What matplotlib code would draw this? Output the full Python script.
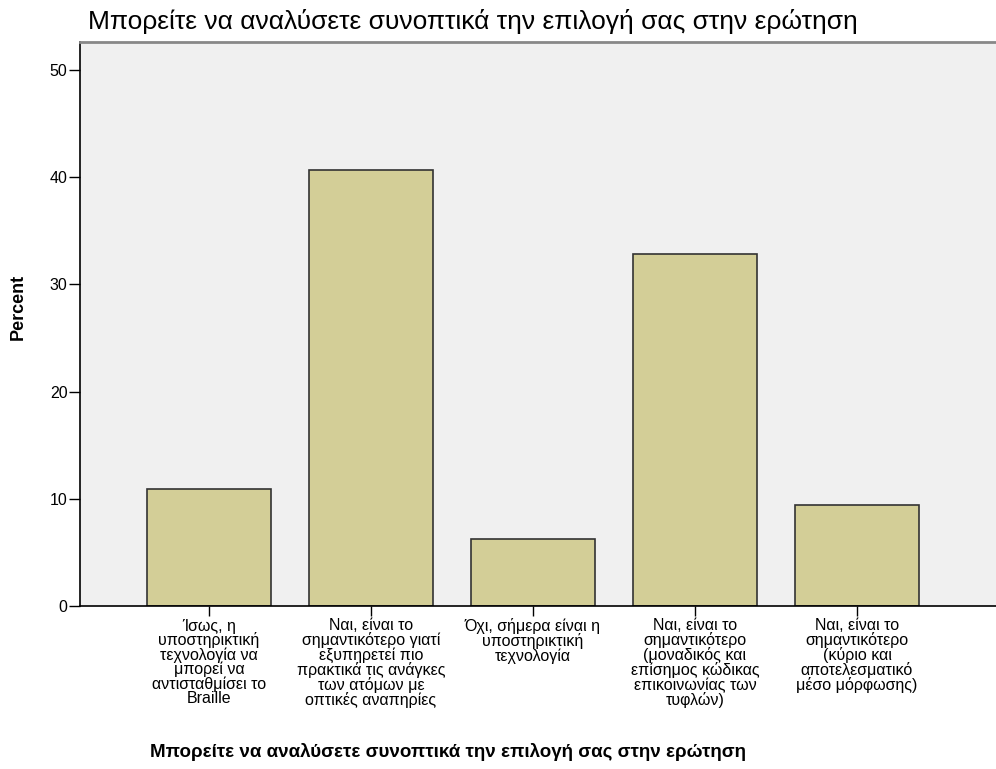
import numpy as np
import matplotlib
matplotlib.use("Agg")
from matplotlib import pyplot as plt

plt.rcParams['font.family'] = ['Liberation Sans', 'DejaVu Sans']

# dati: percentuali per categoria (n = 64)
categorie = [
    "Ίσως, η\nυποστηρικτική\nτεχνολογία να\nμπορεί να\nαντισταθμίσει το\nBraille",
    "Ναι, είναι το\nσημαντικότερο γιατί\nεξυπηρετεί πιο\nπρακτικά τις ανάγκες\nτων ατόμων με\nοπτικές αναπηρίες",
    "Όχι, σήμερα είναι η\nυποστηρικτική\nτεχνολογία",
    "Ναι, είναι το\nσημαντικότερο\n(μοναδικός και\nεπίσημος κώδικας\nεπικοινωνίας των\nτυφλών)",
    "Ναι, είναι το\nσημαντικότερο\n(κύριο και\nαποτελεσματικό\nμέσο μόρφωσης)",
]
percent = [10.94, 40.63, 6.25, 32.81, 9.38]
y_ticks = [0, 10, 20, 30, 40, 50]
titolo = "Μπορείτε να αναλύσετε συνοπτικά την επιλογή σας στην ερώτηση"

fig = plt.figure(figsize=(9.96, 7.69), dpi=100)
ax = fig.add_axes([80/996, 1-606/769, 916/996, (606-42)/769])
ax.set_facecolor("#f0f0f0")

x = np.arange(len(categorie))
ax.bar(x, percent, width=0.77, color="#d3ce97", edgecolor="#333333", linewidth=1.2, zorder=2)

ax.set_xlim(-0.796, 4.858)
ax.set_ylim(0, 52.6)
ax.set_yticks(y_ticks)
ax.set_xticks(x)
ax.set_xticklabels(categorie, fontsize=11.5, linespacing=0.92)
ax.tick_params(axis="y", length=8, width=1, labelsize=11.5, pad=1)
ax.tick_params(axis="x", length=7, width=1, pad=2)

ax.spines["right"].set_visible(False)
ax.spines["top"].set_color("#888888")
ax.spines["top"].set_linewidth(2)
ax.spines["left"].set_linewidth(1.2)
ax.spines["bottom"].set_linewidth(1.2)

ax.set_ylabel("Percent", fontsize=13, fontweight="bold")
ax.yaxis.set_label_coords(-0.058, 0.53)

fig.text(88/996, 1-22/769, titolo, fontsize=19, ha="left", va="center")
fig.text(448/996, 1-752/769, titolo, fontsize=13.5, fontweight="bold", ha="center", va="center")

fig.savefig("out.png", dpi=100)
